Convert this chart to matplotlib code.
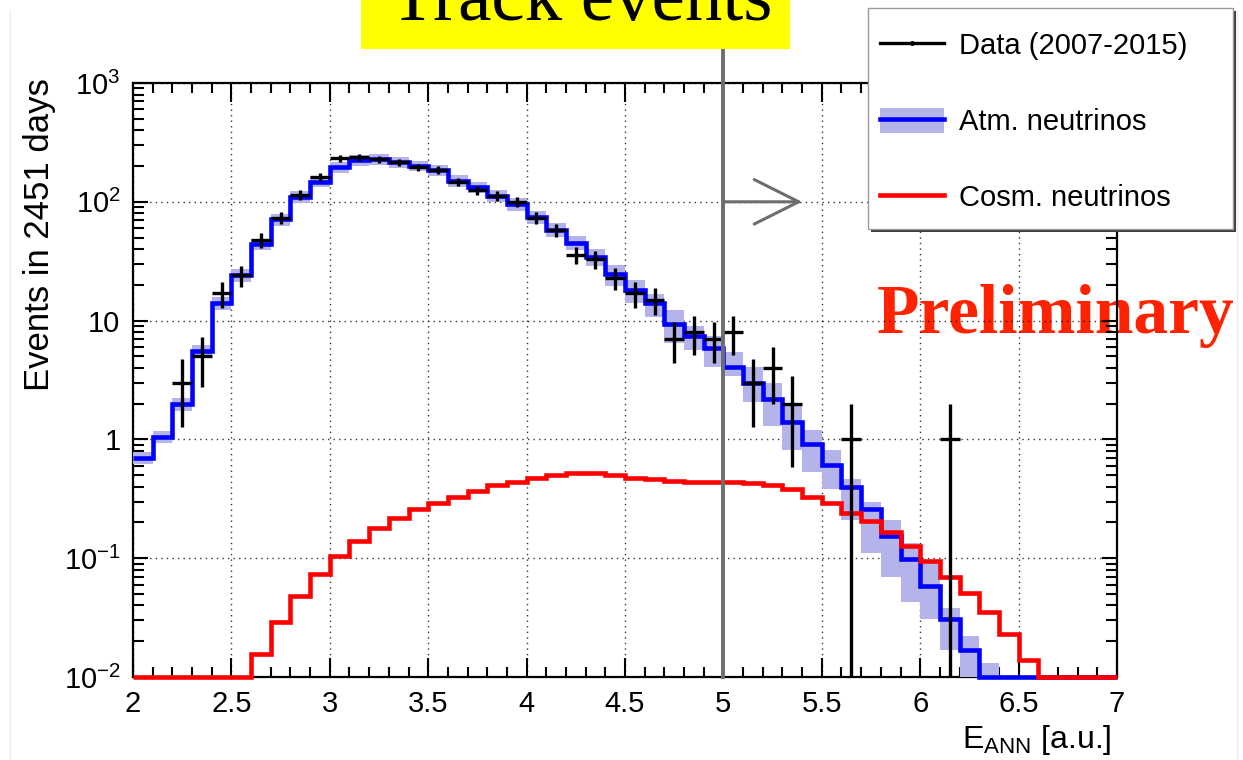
import matplotlib
matplotlib.use('Agg')
import matplotlib.pyplot as plt
import numpy as np
from matplotlib import ticker, transforms
from matplotlib.lines import Line2D
from matplotlib.patches import Patch, Rectangle

# Energy estimator binning: 50 bins of width 0.1 between 2 and 7
e_min, e_max, n_bins = 2.0, 7.0, 50

# Atmospheric neutrino expectation per bin (blue) and its systematic band
atm_nu = [0.70, 1.05, 2.0, 5.5, 14, 24, 44, 71, 110, 148,
	195, 225, 228, 215, 200, 185, 150, 132, 112, 95,
	74, 58, 45, 34, 24.5, 18, 14, 9.3, 7.4, 5.9,
	4.1, 3.0, 2.2, 1.4, 0.91, 0.61, 0.40, 0.26, 0.153, 0.098,
	0.058, 0.031, 0.017, 0, 0, 0, 0, 0, 0, 0]
atm_band_lo = [0.62, 0.93, 1.75, 4.8, 12.3, 21, 39, 63, 98, 132,
	175, 202, 205, 193, 180, 166, 134, 118, 100, 84,
	65, 51, 39, 29, 19.5, 14, 10.8, 6.5, 5.7, 4.1,
	3.4, 2.05, 1.3, 0.82, 0.53, 0.38, 0.21, 0.11, 0.069, 0.043,
	0.031, 0.017, 0.010, 0.010, 0, 0, 0, 0, 0, 0]
atm_band_hi = [0.78, 1.18, 2.25, 6.2, 15.8, 27, 49, 79, 123, 165,
	217, 250, 253, 240, 222, 206, 167, 148, 125, 107,
	84, 66, 52, 40, 29.5, 22, 16.6, 12.4, 9.0, 7.4,
	5.4, 4.1, 3.0, 1.9, 1.2, 0.82, 0.46, 0.30, 0.21, 0.135,
	0.094, 0.038, 0.022, 0.013, 0, 0, 0, 0, 0, 0]

# Cosmic neutrino signal per bin (red)
cosm_nu = [0, 0, 0, 0, 0, 0, 0.0155, 0.029, 0.048, 0.073,
	0.105, 0.14, 0.18, 0.22, 0.26, 0.29, 0.33, 0.37, 0.41, 0.44,
	0.47, 0.50, 0.52, 0.52, 0.50, 0.47, 0.46, 0.45, 0.44, 0.44,
	0.44, 0.43, 0.41, 0.38, 0.33, 0.29, 0.24, 0.205, 0.165, 0.126,
	0.094, 0.07, 0.051, 0.035, 0.023, 0.014, 0, 0, 0, 0]

# Observed events per bin, 2007-2015
data_counts = [0, 0, 3, 5, 17, 24, 48, 73, 115, 162,
	232, 238, 228, 215, 195, 185, 147, 125, 112, 100,
	73, 58, 36, 33, 23, 17, 15, 7, 8, 7,
	8, 3, 4, 2, 0, 0, 1, 0, 0, 0,
	0, 1, 0, 0, 0, 0, 0, 0, 0, 0]

legend_labels = ['Data (2007-2015)', 'Atm. neutrinos', 'Cosm. neutrinos']
y_tick_values = [1e-2, 1e-1, 1, 10, 1e2, 1e3]
y_tick_labels = ['$10^{-2}$', '$10^{-1}$', '1', '10', '$10^{2}$', '$10^{3}$']
x_tick_values = [2, 2.5, 3, 3.5, 4, 4.5, 5, 5.5, 6, 6.5, 7]
cut_value = 5.0

W, H = 1243, 760
Y_MIN, Y_MAX = 1e-2, 1e3
BAND_COLOR = '#b4b4ea'


def fig_xy(x, y):
	# pixel position (from top-left) -> figure fraction
	return x / W, 1 - y / H


def main():
	plt.rcParams['font.family'] = ['Liberation Sans', 'DejaVu Sans']
	plt.rcParams['mathtext.fontset'] = 'custom'
	plt.rcParams['mathtext.rm'] = 'Liberation Sans'
	plt.rcParams['mathtext.it'] = 'Liberation Sans:italic'

	edges = np.linspace(e_min, e_max, n_bins + 1)
	centers = 0.5 * (edges[1:] + edges[:-1])

	fig = plt.figure(figsize=(W / 100, H / 100), dpi=100)
	ax = fig.add_axes([133 / W, 1 - 677 / H, (1117 - 133) / W, (677 - 83) / H])
	ax.set_yscale('log')
	ax.set_xlim(e_min, e_max)
	ax.set_ylim(Y_MIN, Y_MAX)

	# systematic band, then the two expectations
	ax.stairs(np.maximum(atm_band_hi, Y_MIN), edges, baseline=np.maximum(atm_band_lo, Y_MIN),
		fill=True, color=BAND_COLOR, lw=0, zorder=3)
	ax.stairs(np.maximum(atm_nu, Y_MIN), edges, baseline=None, color='#0000ff', lw=3.3,
		zorder=4, clip_on=False)
	ax.stairs(np.maximum(cosm_nu, Y_MIN), edges, baseline=None, color='#ff0000', lw=3.3,
		zorder=5, clip_on=False)

	# data with Poisson errors
	counts = np.asarray(data_counts, dtype=float)
	mask = counts > 0
	err = np.sqrt(counts[mask])
	err_lo = np.minimum(err, counts[mask] - 1e-4)
	ax.errorbar(centers[mask], counts[mask], xerr=0.05, yerr=[err_lo, err], fmt='none',
		ecolor='black', elinewidth=2.4, capsize=0, zorder=6)

	# cut line and arrow
	trans = transforms.blended_transform_factory(ax.transData, ax.transAxes)
	ax.plot([cut_value, cut_value], [0, 1.123], transform=trans, color='#6e6e6e', lw=2.8,
		clip_on=False, zorder=7)
	ax.annotate('', xy=(cut_value + 0.4, 100), xytext=(cut_value, 100),
		arrowprops=dict(arrowstyle='->,head_length=1.6,head_width=0.8', color='#6e6e6e',
			lw=2.2, mutation_scale=20, shrinkA=0, shrinkB=0), zorder=7)

	# axes cosmetics
	ax.set_xticks(x_tick_values)
	ax.xaxis.set_major_formatter(ticker.FormatStrFormatter('%g'))
	ax.xaxis.set_minor_locator(ticker.MultipleLocator(0.1))
	ax.set_yticks(y_tick_values)
	ax.set_yticklabels(y_tick_labels)
	ax.yaxis.set_minor_locator(ticker.LogLocator(base=10, subs=np.arange(2, 10)))
	ax.yaxis.set_minor_formatter(ticker.NullFormatter())

	ax.tick_params(which='both', direction='in', top=True, right=True, width=1.5)
	ax.tick_params(axis='x', which='major', length=14, pad=9, labelsize=21)
	ax.tick_params(axis='x', which='minor', length=7)
	ax.tick_params(axis='y', which='major', length=11, pad=9, labelsize=21)
	ax.tick_params(axis='y', which='minor', length=8)
	for spine in ax.spines.values():
		spine.set_linewidth(1.6)

	ax.grid(True, which='major', color='black', ls=(0, (1, 3)), lw=1.0, alpha=0.8)

	# axis titles aligned to the axis ends
	ax.set_ylabel('Events in 2451 days', fontsize=25)
	ax.yaxis.label.set(ha='right', va='center', rotation_mode='anchor')
	ax.yaxis.set_label_coords((40 - 133) / 984, (677 - 78) / 594)
	ax.set_xlabel(r'E$_{\mathrm{ANN}}$ [a.u.]', fontsize=23)
	ax.xaxis.label.set(ha='right', va='baseline')
	ax.xaxis.set_label_coords((1112 - 133) / 984, -(748 - 677) / 594)

	ax.text(*fig_xy(877, 333), 'Preliminary', transform=fig.transFigure, family='Liberation Serif',
		fontweight='bold', fontsize=50, color='#ff2200', ha='left', va='baseline',
		clip_on=False, zorder=1)

	# legend box with shadow
	x0, y0 = fig_xy(868, 229)
	x1, y1 = fig_xy(1233, 8)
	sx, sy = 3 / W, 3 / H
	fig.add_artist(Rectangle((x0 + sx, y0 - sy), x1 - x0, y1 - y0, transform=fig.transFigure,
		facecolor='#3c3c3c', edgecolor='none', zorder=8))
	fig.add_artist(Rectangle((x0, y0), x1 - x0, y1 - y0, transform=fig.transFigure,
		facecolor='white', edgecolor='#9a9a9a', lw=1.0, zorder=9))
	handles = [Line2D([], [], color='black', lw=2.4, marker='o', ms=2.5),
		(Patch(facecolor=BAND_COLOR, edgecolor='none'), Line2D([], [], color='#0000ff', lw=3.3)),
		Line2D([], [], color='#ff0000', lw=3.3)]
	leg = fig.legend(handles, legend_labels, loc='center left', bbox_to_anchor=fig_xy(880, 122),
		frameon=False, fontsize=21, handlelength=2.2, handleheight=0.95, handletextpad=0.5,
		labelspacing=1.63, borderpad=0, borderaxespad=0)
	leg.set_zorder(10)

	# title on yellow box
	tx0, ty0 = fig_xy(361, 49)
	fig.add_artist(Rectangle((tx0, ty0), (790 - 361) / W, 60 / H, transform=fig.transFigure,
		facecolor='#ffff00', edgecolor='none', zorder=8))
	fig.text(*fig_xy(581, 20), 'Track events', family='Liberation Serif', fontsize=54,
		ha='center', va='baseline', zorder=9)

	# faint canvas frame
	for xp in (10, 1237):
		fig.add_artist(Line2D([xp / W, xp / W], [0, 1 - 10 / H], transform=fig.transFigure,
			color='#ececec', lw=1.0))

	fig.savefig('out.png', dpi=100)


if __name__ == '__main__':
	main()
